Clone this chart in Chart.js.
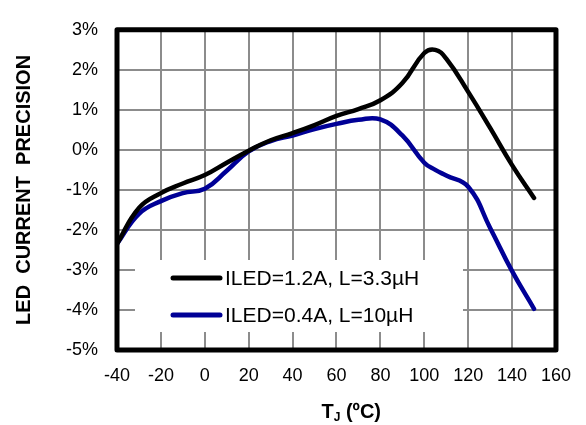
<!DOCTYPE html>
<html>
<head>
<meta charset="utf-8">
<script src="https://cdn.jsdelivr.net/npm/chart.js@4"></script>
<style>
  html, body { margin: 0; padding: 0; background: #fff; }
  canvas { display: block; }
</style>
</head>
<body>
<canvas id="c" width="586" height="425"></canvas>
<script>
const FONT = '"Liberation Sans", Arial, sans-serif';

// junction temperature (°C)
const temps = [-40, -30, -20, -10, 0, 10, 20, 30, 40, 50, 60, 70, 80, 90, 100, 105, 110, 120, 130, 140, 150];
// LED current precision (%)
const iled12 = [-2.35, -1.45, -1.08, -0.84, -0.63, -0.32, -0.02, 0.24, 0.42, 0.62, 0.85, 1.02, 1.24, 1.67, 2.42, 2.5, 2.28, 1.45, 0.55, -0.38, -1.2];
const iled04 = [-2.35, -1.6, -1.28, -1.08, -0.97, -0.52, -0.04, 0.22, 0.36, 0.52, 0.65, 0.75, 0.76, 0.36, -0.32, -0.5, -0.64, -0.92, -1.95, -3.03, -3.97];

const seriesLabels = ['ILED=1.2A, L=3.3µH', 'ILED=0.4A, L=10µH'];
const seriesColors = ['#000000', '#000096'];

const xTicks = [-40, -20, 0, 20, 40, 60, 80, 100, 120, 140, 160];
const yTicks = [-5, -4, -3, -2, -1, 0, 1, 2, 3];

// white legend box sitting over the grid, bottom-left of the plot
const legendBox = {
  id: 'legendBox',
  beforeDatasetsDraw(chart) {
    const { ctx, chartArea: a } = chart;
    ctx.save();
    ctx.fillStyle = '#fff';
    ctx.fillRect(a.left + 18, 260, 328, 72);
    chart.data.datasets.forEach((ds, i) => {
      const y = 278 + i * 37;
      ctx.strokeStyle = ds.borderColor;
      ctx.lineWidth = 5;
      ctx.lineCap = 'round';
      ctx.beginPath();
      ctx.moveTo(a.left + 56, y);
      ctx.lineTo(a.left + 103, y);
      ctx.stroke();
      ctx.fillStyle = '#000';
      ctx.font = `21px ${FONT}`;
      ctx.textBaseline = 'middle';
      ctx.fillText(ds.label, a.left + 108, y + 1);
    });
    ctx.restore();
  }
};

// thick black frame + x-axis title with subscript
const frame = {
  id: 'frame',
  afterDatasetsDraw(chart) {
    const { ctx, chartArea: a } = chart;
    ctx.save();
    ctx.strokeStyle = '#000';
    ctx.lineWidth = 5;
    ctx.lineJoin = 'round';
    ctx.strokeRect(a.left, a.top, a.right - a.left, a.bottom - a.top);
    ctx.restore();
  },
  afterDraw(chart) {
    const { ctx, chartArea: a } = chart;
    ctx.save();
    ctx.fillStyle = '#000';
    ctx.textBaseline = 'alphabetic';
    let x = (a.left + a.right) / 2 - 15;
    const y = 418;
    ctx.font = `bold 20px ${FONT}`;
    ctx.fillText('T', x, y);
    x += ctx.measureText('T').width;
    ctx.font = `bold 12px ${FONT}`;
    ctx.fillText('J', x, y + 3);
    x += ctx.measureText('J').width;
    ctx.font = `bold 20px ${FONT}`;
    ctx.fillText(' (ºC)', x, y);
    ctx.restore();
  }
};

new Chart(document.getElementById('c'), {
  type: 'line',
  data: {
    datasets: [iled12, iled04].map((vals, i) => ({
      label: seriesLabels[i],
      data: temps.map((t, j) => ({ x: t, y: vals[j] })),
      borderColor: seriesColors[i],
      backgroundColor: seriesColors[i],
      borderWidth: 4.5,
      borderCapStyle: 'round',
      pointRadius: 0,
      tension: 0.45,
      fill: false
    }))
  },
  options: {
    responsive: false,
    animation: false,
    layout: { padding: { left: 0, right: 29, top: 16, bottom: 0 } },
    plugins: { legend: { display: false }, tooltip: { enabled: false } },
    scales: {
      x: {
        type: 'linear', min: -40, max: 160,
        afterFit: (s) => { s.height = 75; },
        afterBuildTicks: (s) => { s.ticks = xTicks.map(v => ({ value: v })); },
        grid: { color: '#8c8c8c', lineWidth: 2, drawTicks: false },
        border: { display: false },
        ticks: { color: '#000', padding: 15, maxRotation: 0, autoSkip: false, font: { family: FONT, size: 18 } }
      },
      y: {
        min: -5, max: 3,
        afterFit: (s) => { s.width = 117; },
        afterBuildTicks: (s) => { s.ticks = yTicks.map(v => ({ value: v })); },
        grid: { color: '#8c8c8c', lineWidth: 2, drawTicks: false },
        border: { display: false },
        ticks: { color: '#000', padding: 19, font: { family: FONT, size: 18 }, callback: (v) => `${v}%` },
        title: {
          display: true, text: 'LED  CURRENT  PRECISION', color: '#000',
          font: { family: FONT, size: 20, weight: 'bold' },
          padding: { top: 12, bottom: 0 }
        }
      }
    }
  },
  plugins: [legendBox, frame]
});
</script>
</body>
</html>
